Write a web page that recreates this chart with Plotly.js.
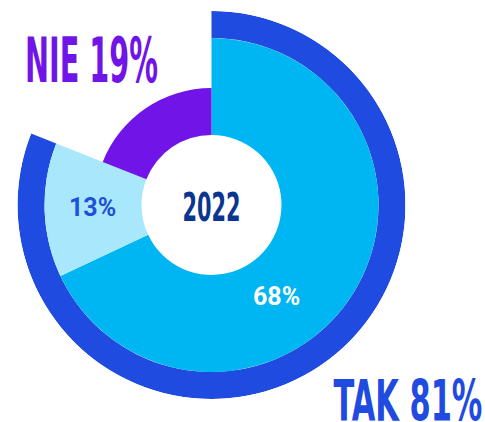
<!DOCTYPE html>
<html>
<head>
<meta charset="utf-8">
<script src="https://cdn.plot.ly/plotly-3.0.1.min.js"></script>
<style>html,body{margin:0;padding:0;background:#fff;}#chart{width:485px;height:422px;}</style>
</head>
<body>
<div id="chart"></div>
<script>
// ---- data ----
const year = '2022';
const groupLabels = ['TAK', 'NIE'];
const groupValues = [81, 19];
const segmentLabels = ['68%', '13%', '19%'];
const segmentValues = [68, 13, 19];

// ---- styles ----
const W = 485, H = 422;
const cx = 211.5, cy = 205, R = 194;
const holeR = 70, ringIn = 167;
const segmentOuter = [167, 167, 117];
const segmentColors = ['#00B6F2', '#A9E8FC', '#7014E8'];
const ringColor = '#1F4BE0';

function px(x) { return x / W; }
function py(y) { return 1 - y / H; }

// angular spans from values
const total = segmentValues.reduce((a, b) => a + b, 0);
let acc = 0;
const segTheta = [], segWidth = [];
segmentValues.forEach(v => {
  const w = v / total * 360;
  segTheta.push(acc + w / 2);
  segWidth.push(w);
  acc += w;
});
const ringSpan = groupValues[0] / total * 360;

const traces = [
  {
    type: 'barpolar',
    theta: [ringSpan / 2], width: [ringSpan],
    r: [R - ringIn], base: [ringIn],
    marker: { color: ringColor, line: { width: 0 } },
    hoverinfo: 'skip'
  },
  {
    type: 'barpolar',
    theta: segTheta, width: segWidth,
    r: segmentOuter.map(o => o - holeR), base: segmentOuter.map(() => holeR),
    marker: { color: segmentColors, line: { width: 0 } },
    hoverinfo: 'skip'
  }
];

const bigFont = "'DejaVu Sans Condensed', 'DejaVu Sans', sans-serif";
// condensed headline look: target ink width and cap height (px), by annotation index
const condensed = { 0: { w: 133, cap: 45 }, 1: { w: 149, cap: 42 }, 2: { w: 58, cap: 29 } };

const layout = {
  width: W, height: H,
  margin: { l: 0, r: 0, t: 0, b: 0 },
  paper_bgcolor: '#ffffff',
  showlegend: false,
  polar: {
    domain: { x: [px(cx - R), px(cx + R)], y: [py(cy + R), py(cy - R)] },
    bgcolor: 'rgba(0,0,0,0)',
    barmode: 'overlay', bargap: 0,
    radialaxis: { visible: false, range: [0, R] },
    angularaxis: { visible: false, rotation: 90, direction: 'clockwise' }
  },
  annotations: [
    { text: groupLabels[1] + ' ' + groupValues[1] + '%', x: px(91.5), y: py(59.5),
      font: { family: bigFont, size: 30, color: '#7014E8', weight: 'bold' } },
    { text: groupLabels[0] + ' ' + groupValues[0] + '%', x: px(407.5), y: py(399),
      font: { family: bigFont, size: 30, color: ringColor, weight: 'bold' } },
    { text: year, x: px(211), y: py(206.5),
      font: { family: bigFont, size: 30, color: '#0A3590', weight: 'bold' } },
    { text: segmentLabels[1], x: px(92.5), y: py(207.5),
      font: { family: 'Roboto', size: 25, color: '#2050D8', weight: 'bold' } },
    { text: segmentLabels[0], x: px(276.5), y: py(296),
      font: { family: 'Roboto', size: 25, color: '#ffffff', weight: 'bold' } }
  ].map(a => Object.assign({ xref: 'paper', yref: 'paper', showarrow: false, xanchor: 'center', yanchor: 'middle' }, a))
};

Plotly.newPlot('chart', traces, layout, { staticPlot: true, displayModeBar: false }).then(gd => {
  gd.querySelectorAll('g.annotation').forEach(g => {
    const idx = +g.getAttribute('data-index');
    const spec = condensed[idx];
    if (!spec) return;
    const t = g.querySelector('text.annotation-text');
    if (!t) return;
    const size = layout.annotations[idx].font.size;
    const bb = t.getBBox();
    const sx = spec.w / bb.width;
    const sy = spec.cap / (0.729 * size);
    const bcx = bb.x + bb.width / 2, bcy = bb.y + bb.height / 2;
    const ty = bcy + 0.0185 * size * sy;
    t.setAttribute('transform',
      'translate(' + bcx + ',' + ty + ') scale(' + sx + ',' + sy + ') translate(' + (-bcx) + ',' + (-bcy) + ')');
  });
});
</script>
</body>
</html>
